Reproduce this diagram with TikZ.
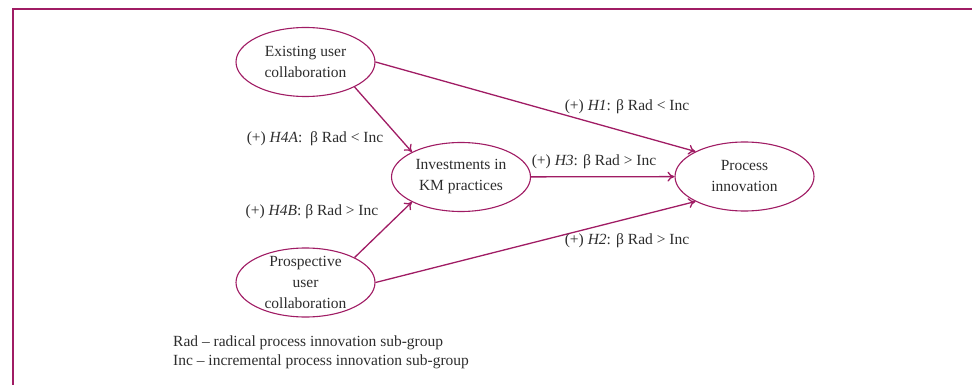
\documentclass[tikz,border=0pt]{standalone}
\usepackage{fontspec}
\setmainfont{Liberation Serif}
\usepackage{tikz}
\usetikzlibrary{shapes.geometric, arrows.meta}
\definecolor{plum}{RGB}{160,28,100}
\definecolor{ink}{RGB}{45,45,45}

\begin{document}
\begin{tikzpicture}[x=1pt, y=-1pt, text=ink, font=\fontsize{15.5}{21}\selectfont,
  construct/.style={draw=plum, line width=1.1pt, ellipse, align=center,
    minimum width=139pt, minimum height=69pt, inner xsep=0pt, inner ysep=-10pt},
  hyp/.style={draw=plum, line width=1.3pt, -{To[length=7pt, width=10pt]}},
  lbl/.style={inner sep=0pt}]

  \useasboundingbox (0,0) rectangle (972,385);
  \draw[plum, line width=2.5pt] (972,9) -- (13,9) -- (13,385);

  \node[construct] (exist) at (305.5,62) {Existing user\\collaboration};
  \node[construct] (invest) at (461,177) {Investments in\\KM practices};
  \node[construct] (procinn) at (744.5,176.5) {Process\\innovation};
  \node[construct] (prosp) at (305.5,282.5) {Prospective\\user\\collaboration};

  \path (exist.-27) edge[hyp] (invest.153);
  \path (exist.east) edge[hyp] (procinn.153);
  \path (invest) edge[hyp] (procinn);
  \path (prosp.27) edge[hyp] (invest.207);
  \path (prosp.east) edge[hyp] (procinn.207);

  \node[lbl] (h1) at (627,107) {(+) \textit{H1}: β Rad < Inc};
  \node[lbl] (h4a) at (315,139) {(+) \textit{H4A}:\ \ β Rad < Inc};
  \node[lbl] (h3) at (594,162) {(+) \textit{H3}: β Rad > Inc};
  \node[lbl] (h4b) at (312,212) {(+) \textit{H4B}: β Rad > Inc};
  \node[lbl] (h2) at (627,241) {(+) \textit{H2}: β Rad > Inc};

  \node[lbl, anchor=west] (radnote) at (173,343) {Rad – radical process innovation sub-group};
  \node[lbl, anchor=west] (incnote) at (173,362) {Inc – incremental process innovation sub-group};
\end{tikzpicture}
\end{document}
